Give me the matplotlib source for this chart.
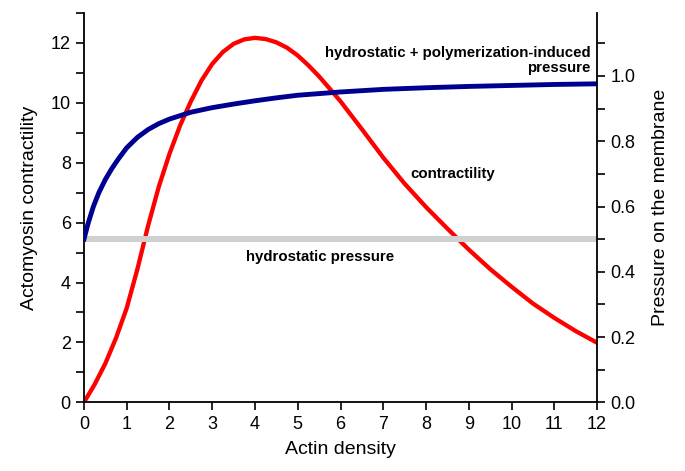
import matplotlib
matplotlib.use('Agg')
import matplotlib.pyplot as plt
from matplotlib.ticker import MultipleLocator

plt.rcParams['font.family'] = ['Liberation Sans', 'DejaVu Sans']

# actomyosin contractility vs actin density (left axis)
x_red = [0, 0.25, 0.5, 0.75, 1, 1.25, 1.5, 1.75, 2, 2.25, 2.5, 2.75, 3, 3.25,
         3.5, 3.75, 4, 4.25, 4.5, 4.75, 5, 5.25, 5.5, 5.75, 6, 6.5, 7, 7.5,
         8, 8.5, 9, 9.5, 10, 10.5, 11, 11.5, 12]
contractility = [0, 0.6, 1.3, 2.15, 3.15, 4.45, 5.9, 7.2, 8.3, 9.25, 10.05,
                 10.75, 11.3, 11.7, 11.97, 12.12, 12.17, 12.13, 12.02, 11.84,
                 11.58, 11.25, 10.88, 10.47, 10.05, 9.12, 8.17, 7.3, 6.52,
                 5.8, 5.1, 4.45, 3.86, 3.3, 2.82, 2.38, 1.99]

# pressure on the membrane (right axis)
x_blue = [0, 0.1, 0.22, 0.35, 0.5, 0.65, 0.8, 1, 1.25, 1.5, 1.75, 2, 2.5, 3,
          3.5, 4, 4.5, 5, 6, 7, 8, 9, 10, 11, 12]
pressure_total = [0.5, 0.55, 0.6, 0.643, 0.683, 0.716, 0.745, 0.78, 0.812,
                  0.836, 0.854, 0.868, 0.889, 0.903, 0.914, 0.924, 0.933,
                  0.941, 0.951, 0.959, 0.964, 0.968, 0.971, 0.974, 0.976]
hydrostatic = 0.5

fig = plt.figure(figsize=(6.85, 4.71), dpi=100)
ax = fig.add_axes([0.1226, 0.1458, 0.749, 0.8266])
ax2 = ax.twinx()

ax.plot(x_red, contractility, color='#ff0000', lw=3.1)
ax2.axhline(hydrostatic, color='#d0d0d0', lw=4.3, zorder=1)
ax2.plot(x_blue, pressure_total, color='#000090', lw=3.5, zorder=2)

ax.set_xlim(0, 12)
ax.set_ylim(0, 13)
ax2.set_ylim(0, 1.193)

ax.xaxis.set_major_locator(MultipleLocator(1))
ax.yaxis.set_major_locator(MultipleLocator(2))
ax.yaxis.set_minor_locator(MultipleLocator(1))
ax2.yaxis.set_minor_locator(MultipleLocator(0.1))
ax2.set_yticks([0.0, 0.2, 0.4, 0.6, 0.8, 1.0])
ax2.set_yticklabels(['0.0', '0.2', '0.4', '0.6', '0.8', '1.0'])

for a in (ax, ax2):
    a.spines['top'].set_visible(False)
    for s in a.spines.values():
        s.set_linewidth(1.3)
    a.tick_params(which='both', direction='out', length=6, width=1.2, labelsize=13)
ax.spines['right'].set_visible(False)
ax2.spines['left'].set_visible(False)
ax2.spines['bottom'].set_visible(False)

ax.set_xlabel('Actin density', fontsize=14, labelpad=6)
ax.set_ylabel('Actomyosin contractility', fontsize=14, labelpad=9)
ax2.set_ylabel('Pressure on the membrane', fontsize=14, labelpad=12)

ax.text(11.85, 11.4, 'hydrostatic + polymerization-induced\npressure',
        ha='right', va='center', multialignment='right',
        fontsize=10.8, fontweight='bold', linespacing=1.1)
ax.text(7.63, 7.64, 'contractility', ha='left', va='center',
        fontsize=10.8, fontweight='bold')
ax.text(5.53, 4.85, 'hydrostatic pressure', ha='center', va='center',
        fontsize=10.8, fontweight='bold')

fig.savefig('out.png', dpi=100)
